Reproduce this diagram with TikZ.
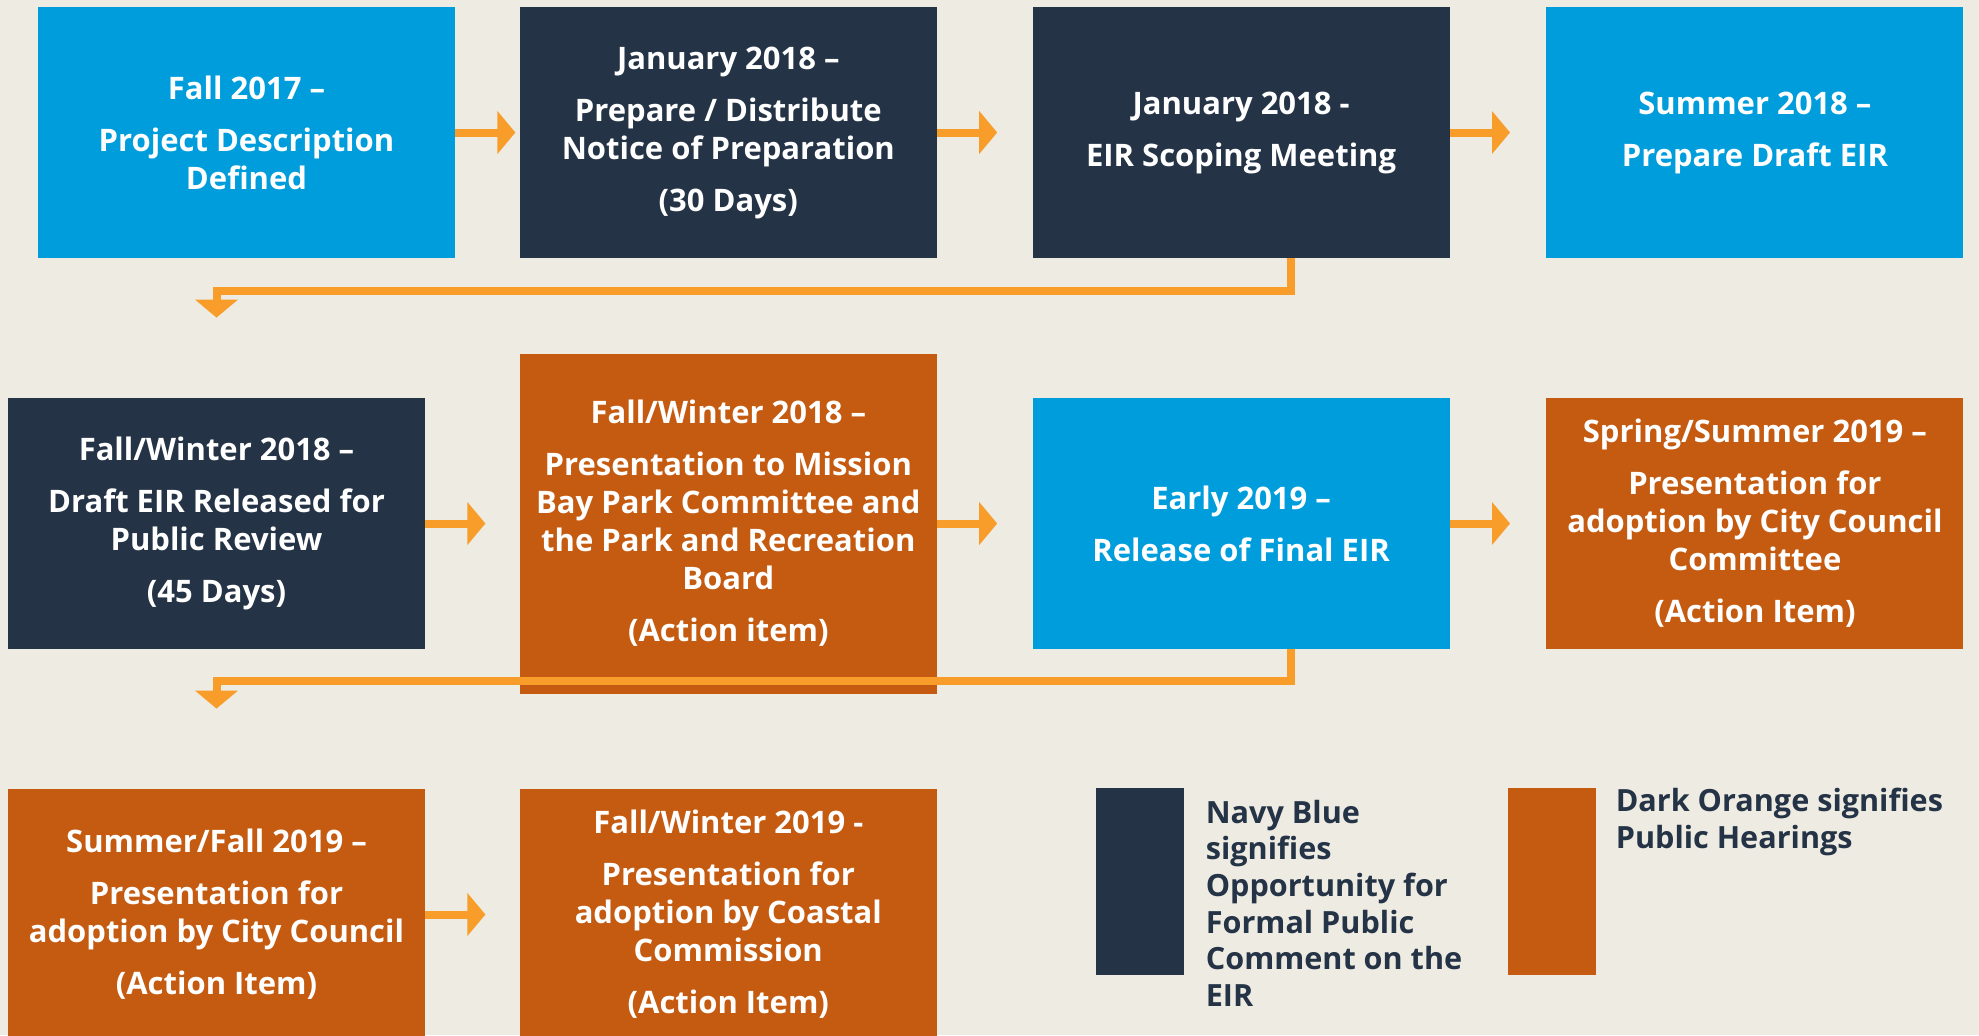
\documentclass[tikz,border=0pt]{standalone}
\usepackage{fontspec}
\setmainfont{Open Sans}
\usepackage{tikz}
\usetikzlibrary{arrows.meta}
\usetikzlibrary{positioning}

\definecolor{skyblue}{HTML}{009DDC}
\definecolor{navy}{HTML}{243345}
\definecolor{rust}{HTML}{C55A11}
\definecolor{arroworange}{HTML}{F89D29}
\definecolor{backdrop}{HTML}{EEEBE3}

\newcommand{\stagefont}{\fontsize{15.5}{19}\selectfont\bfseries}
\newcommand{\keyfont}{\fontsize{15.3}{18.3}\selectfont\bfseries}
\tikzstyle{stage} = [rectangle, inner sep = 0pt, minimum width = 208.5pt, minimum height = 125.5pt, align = center, text = white, font = \stagefont]
\tikzstyle{arrow} = [line width = 4pt, draw = arroworange, -{Triangle[width = 21pt, length = 9pt]}]
\tikzstyle{key} = [rectangle, inner sep = 0pt, minimum width = 44pt, minimum height = 93.5pt]
\tikzstyle{keytext} = [inner sep = 0pt, align = left, text = navy, font = \keyfont]

\begin{document}
\begin{tikzpicture}[x = 0.5pt, y = -0.5pt]
	
	% Background
	\useasboundingbox (0,0) rectangle (1979,1035);
	\fill[backdrop] (0,0) rectangle (1979,1035);
	
	% First row
	\node[stage, fill = skyblue] (fall17) at (246.5,132.5) {Fall 2017 --\\[7pt] Project Description\\Defined};
	\node[stage, fill = navy, right = 32pt of fall17] (notice) {January 2018 --\\[7pt] Prepare / Distribute\\Notice of Preparation\\[7pt] (30 Days)};
	\node[stage, fill = navy, right = 47.5pt of notice] (scoping) {January 2018 -\\[7pt] EIR Scoping Meeting};
	\node[stage, fill = skyblue, right = 48pt of scoping] (prepdraft) {Summer 2018 --\\[7pt] Prepare Draft EIR};
	\coordinate[right = 30pt of fall17] (rfall17);
	\coordinate[right = 30pt of notice] (rnotice);
	\coordinate[right = 30pt of scoping] (rscoping);
	\coordinate[right = 25pt of scoping.south] (bscoping);
	
	% Second row
	\node[stage, fill = navy] (draft) at (216.5,523.5) {Fall/Winter 2018 --\\[7pt] Draft EIR Released for\\Public Review\\[7pt] (45 Days)};
	\node[stage, fill = rust, minimum height = 170pt, right = 47pt of draft] (missionbay) {Fall/Winter 2018 --\\[7pt] Presentation to Mission\\Bay Park Committee and\\the Park and Recreation\\Board\\[7pt] (Action item)};
	\node[stage, fill = skyblue, right = 47.5pt of missionbay] (final) {Early 2019 --\\[7pt] Release of Final EIR};
	\node[stage, fill = rust, right = 48pt of final] (committee) {Spring/Summer 2019 --\\[7pt] Presentation for\\adoption by City Council\\Committee\\[7pt] (Action Item)};
	\coordinate[above = 40pt of draft] (tdraft);
	\coordinate[right = 30pt of draft] (rdraft);
	\coordinate[right = 30pt of missionbay] (rmissionbay);
	\coordinate[right = 30pt of final] (rfinal);
	\coordinate[right = 25pt of final.south] (bfinal);
	
	% Third row
	\node[stage, fill = rust] (council) at (216.5,914.5) {Summer/Fall 2019 --\\[7pt] Presentation for\\adoption by City Council\\[7pt] (Action Item)};
	\node[stage, fill = rust, right = 47pt of council] (coastal) {Fall/Winter 2019 -\\[7pt] Presentation for\\adoption by Coastal\\Commission\\[7pt] (Action Item)};
	\coordinate[above = 40pt of council] (tcouncil);
	\coordinate[right = 30pt of council] (rcouncil);
	
	% Legend
	\node[key, fill = navy] (navykey) at (1140,881.5) {};
	\node[key, fill = rust] (rustkey) at (1552,881.5) {};
	\node[keytext, right = 10.5pt of navykey.north east, anchor = north west, yshift = -6pt] (navytext) {Navy Blue\\signifies\\Opportunity for\\Formal Public\\Comment on the\\EIR};
	\node[keytext, right = 9.5pt of rustkey.north east, anchor = north west] (rusttext) {Dark Orange signifies\\Public Hearings};
	
	% Connect all nodes defined above
	\draw[arrow] (fall17) -- (rfall17);
	\draw[arrow] (notice) -- (rnotice);
	\draw[arrow] (scoping) -- (rscoping);
	\draw[arrow] (bscoping) -- ++(0,33) -| (tdraft);
	\draw[arrow] (draft) -- (rdraft);
	\draw[arrow] (missionbay) -- (rmissionbay);
	\draw[arrow] (final) -- (rfinal);
	\draw[arrow] (bfinal) -- ++(0,32) -| (tcouncil);
	\draw[arrow] (council) -- (rcouncil);
	
\end{tikzpicture}
\end{document}
